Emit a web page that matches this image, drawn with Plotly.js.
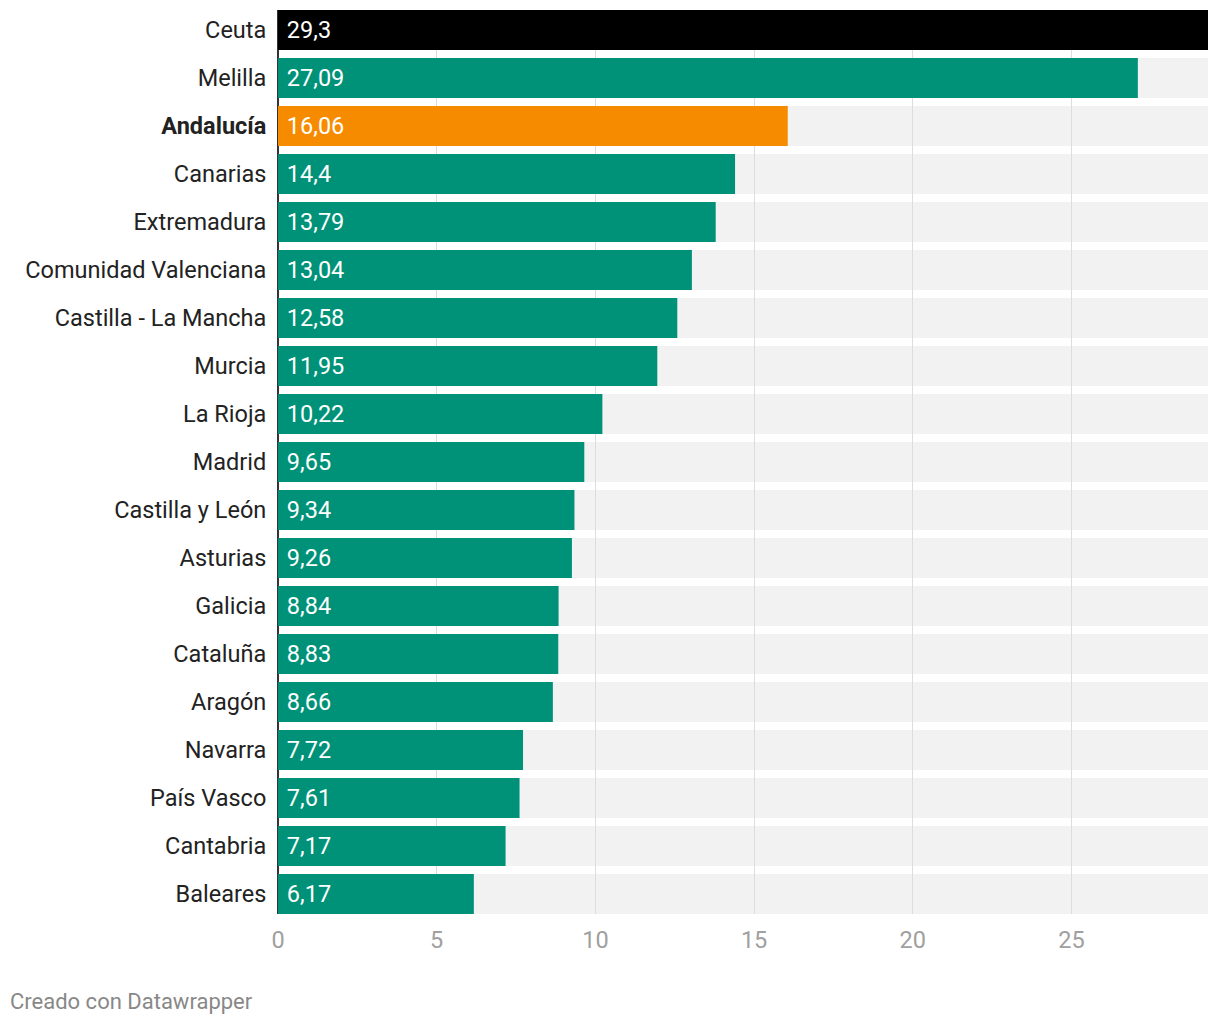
<!DOCTYPE html>
<html>
<head>
<meta charset="utf-8">
<script src="https://cdn.plot.ly/plotly-3.0.1.min.js"></script>
<style>
  html, body { margin: 0; padding: 0; background: #fff; }
  #chart { width: 1220px; height: 1026px; }
</style>
</head>
<body>
<div id="chart"></div>
<script>
const regions = ["Ceuta", "Melilla", "Andalucía", "Canarias", "Extremadura", "Comunidad Valenciana",
  "Castilla - La Mancha", "Murcia", "La Rioja", "Madrid", "Castilla y León", "Asturias", "Galicia",
  "Cataluña", "Aragón", "Navarra", "País Vasco", "Cantabria", "Baleares"];
const values = [29.3, 27.09, 16.06, 14.4, 13.79, 13.04, 12.58, 11.95, 10.22, 9.65, 9.34, 9.26, 8.84,
  8.83, 8.66, 7.72, 7.61, 7.17, 6.17];
const highlightBlack = "Ceuta";
const highlightOrange = "Andalucía";
const xTicks = [0, 5, 10, 15, 20, 25];

const GREEN = "#009278", ORANGE = "#f78b00", BLACK = "#000000";
const FS = 23.5;
const BARGAP = 1/6;
const half = (1 - BARGAP) / 2;
const maxVal = Math.max(...values);

const colors = regions.map(r => r === highlightBlack ? BLACK : (r === highlightOrange ? ORANGE : GREEN));
const labels = values.map(v => "\u00a0" + String(v).replace(".", ","));
const tickText = regions.map(r => r === highlightOrange ? "<b>" + r + "</b>" : r);

const shapes = regions.map((r, i) => ({
  type: "rect", layer: "below", xref: "paper", yref: "y",
  x0: 0, x1: 1, y0: i - half, y1: i + half,
  fillcolor: "#f2f2f2", line: { width: 0 }
}));

const trace = {
  type: "bar", orientation: "h",
  y: regions.map((r, i) => i), x: values,
  marker: { color: colors, line: { width: 0 } },
  text: labels, textposition: "inside", insidetextanchor: "start",
  textfont: { family: "Roboto", size: FS, color: "#ffffff" },
  constraintext: "none", cliponaxis: false,
  hoverinfo: "skip"
};

const layout = {
  width: 1220, height: 1026,
  margin: { l: 278, r: 12, t: 10, b: 112 },
  paper_bgcolor: "#ffffff", plot_bgcolor: "rgba(0,0,0,0)",
  font: { family: "Roboto", size: FS, color: "#222222" },
  bargap: BARGAP,
  showlegend: false,
  shapes: shapes,
  xaxis: {
    range: [0, maxVal], tickvals: xTicks, ticktext: xTicks.map(String),
    showgrid: true, gridcolor: "#dddddd", gridwidth: 1,
    zeroline: true, zerolinecolor: "#333333", zerolinewidth: 2,
    showline: false, ticks: "outside", ticklen: 5, tickcolor: "rgba(0,0,0,0)",
    tickfont: { family: "Roboto", size: FS, color: "#a0a0a0" },
    fixedrange: true
  },
  yaxis: {
    type: "linear",
    range: [regions.length - 1 + half, -half],
    tickvals: regions.map((r, i) => i), ticktext: tickText,
    showgrid: false, zeroline: false, showline: false,
    ticks: "outside", ticklen: 6, tickcolor: "rgba(0,0,0,0)",
    tickfont: { family: "Roboto", size: FS, color: "#222222" },
    fixedrange: true
  },
  annotations: [{
    text: "Creado con Datawrapper", xref: "paper", yref: "paper",
    x: -(278 - 8)/930, y: -(1002 - 914)/904, xanchor: "left", yanchor: "middle",
    showarrow: false, font: { family: "Roboto", size: 22, color: "#888888" }
  }]
};

Plotly.newPlot("chart", [trace], layout, { displayModeBar: false, staticPlot: true });
</script>
</body>
</html>
